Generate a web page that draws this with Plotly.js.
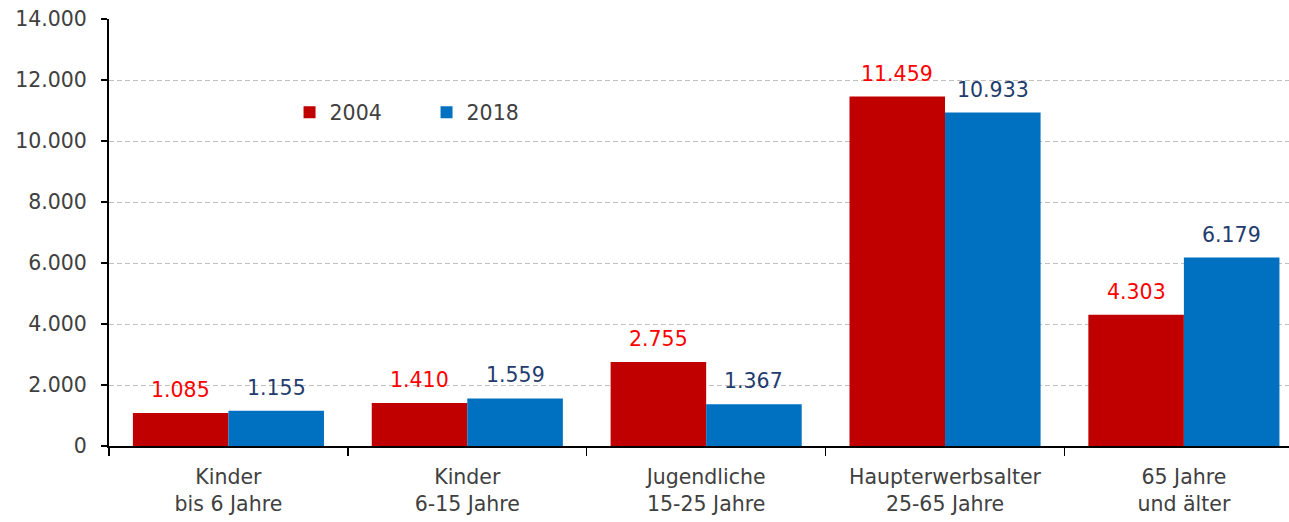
<!DOCTYPE html>
<html>
<head>
<meta charset="utf-8">
<script src="https://cdn.plot.ly/plotly-3.0.1.min.js"></script>
<style>html,body{margin:0;padding:0;background:#fff;}#chart{width:1289px;height:522px;}</style>
</head>
<body>
<div id="chart"></div>
<script>
const categories = ["Kinder<br>bis 6 Jahre", "Kinder<br>6-15 Jahre", "Jugendliche<br>15-25 Jahre", "Haupterwerbsalter<br>25-65 Jahre", "65 Jahre<br>und älter"];
const values2004 = [1085, 1410, 2755, 11459, 4303];
const values2018 = [1155, 1559, 1367, 10933, 6179];
const seriesNames = ["2004", "2018"];
const yTicks = [0, 2000, 4000, 6000, 8000, 10000, 12000, 14000];

const FONT = "DejaVu Sans, Verdana, sans-serif";

const traces = [
  {type: 'bar', name: seriesNames[0], x: categories, y: values2004, marker: {color: '#C00000', line: {width: 0}}, hoverinfo: 'none'},
  {type: 'bar', name: seriesNames[1], x: categories, y: values2018, marker: {color: '#0070C0', line: {width: 0}}, hoverinfo: 'none'}
];

const annotations = [];
values2004.forEach((v, i) => annotations.push({
  x: categories[i], y: v, xref: 'x', yref: 'y', text: v.toLocaleString('de-DE'),
  showarrow: false, xshift: -47.8, yshift: 23, yanchor: 'middle',
  font: {family: FONT, size: 20.5, color: '#FF0000'}
}));
values2018.forEach((v, i) => annotations.push({
  x: categories[i], y: v, xref: 'x', yref: 'y', text: v.toLocaleString('de-DE'),
  showarrow: false, xshift: 47.8, yshift: 23, yanchor: 'middle',
  font: {family: FONT, size: 20.5, color: '#1F3C6E'}
}));

const layout = {
  width: 1289, height: 522,
  margin: {l: 109, r: 0, t: 19, b: 76, pad: 0},
  paper_bgcolor: '#fff', plot_bgcolor: '#fff',
  separators: ',.',
  font: {family: FONT, size: 20.5, color: '#404040'},
  barmode: 'group', bargap: 0.2, bargroupgap: 0,
  showlegend: true,
  legend: {
    orientation: 'h', x: 0.153, y: 0.781, xanchor: 'left', yanchor: 'middle',
    entrywidth: 92, entrywidthmode: 'pixels',
    font: {family: FONT, size: 20.5, color: '#404040'},
    bgcolor: 'rgba(0,0,0,0)', traceorder: 'normal'
  },
  xaxis: {
    type: 'category', range: [-0.5, 4.44], fixedrange: true,
    showline: true, linecolor: '#000', linewidth: 1.5,
    ticks: 'outside', tickson: 'boundaries', ticklen: 8, tickcolor: '#000', tickwidth: 1.5,
    ticklabelstandoff: 12,
    showgrid: false, zeroline: false,
    tickfont: {family: FONT, size: 20.5, color: '#404040'}
  },
  yaxis: {
    range: [0, 14000], tickvals: yTicks, tickformat: ',d', fixedrange: true,
    showline: true, linecolor: '#000', linewidth: 2,
    ticks: 'outside', ticklen: 6, tickcolor: '#000', tickwidth: 1.5,
    ticklabelstandoff: 10,
    showgrid: true, gridcolor: '#C0C0C0', griddash: '5px,3px', gridwidth: 1,
    zeroline: false,
    tickfont: {family: FONT, size: 20.5, color: '#404040'}
  },
  annotations: annotations
};

Plotly.newPlot('chart', traces, layout, {staticPlot: true, displayModeBar: false});
</script>
</body>
</html>
